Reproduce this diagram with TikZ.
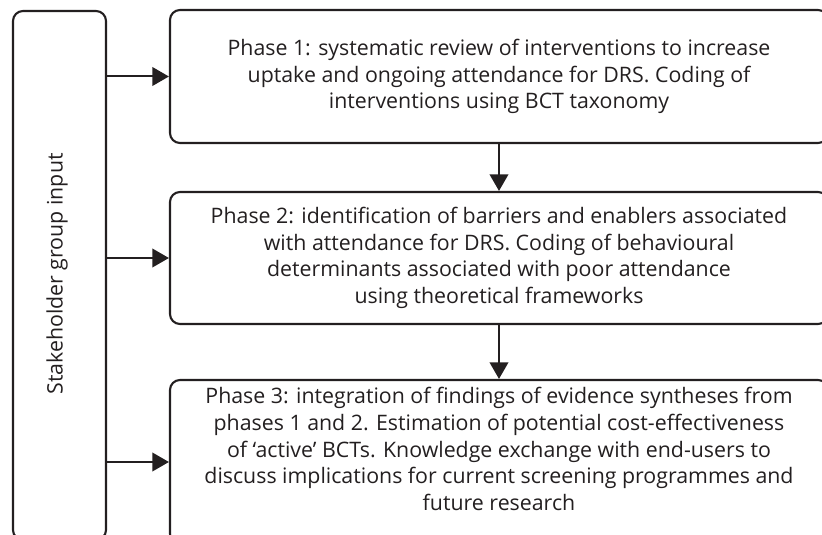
\documentclass[tikz,border=0pt]{standalone}
\usepackage{fontspec}
\setmainfont{Open Sans}
\usetikzlibrary{arrows.meta}
\definecolor{ink}{HTML}{231F20}
\begin{document}
\begin{tikzpicture}[x=0.75pt,y=-0.75pt,
  txt/.style={text=ink, align=center, inner sep=0pt, font=\fontsize{16}{20}\selectfont},
  box/.style={draw=ink, line width=1.6pt, rounded corners=7.5pt, txt},
  conn/.style={draw=ink, line width=1.5pt, -{Triangle[length=12.5pt,width=14pt]}}]
\useasboundingbox (0,0) rectangle (822,535);
\clip (0,0) rectangle (822,535);
\node[box, minimum width=69.75pt, minimum height=396.75pt] (sg) at (59.5,275.5) {};
\node[txt, rotate=90] (sgt) at (57,274) {Stakeholder group input};
\node[box, minimum width=493.5pt, minimum height=99.75pt] (p1) at (499,76.5)
  {Phase 1: systematic review of interventions to increase\\uptake and ongoing attendance for DRS. Coding of\\interventions using BCT taxonomy};
\node[box, minimum width=493.5pt, minimum height=99pt] (p2) at (499,258)
  {Phase 2: identification of barriers and enablers associated\\with attendance for DRS. Coding of behavioural\\determinants associated with poor attendance\\using theoretical frameworks};
\node[box, minimum width=493.5pt, minimum height=123pt] (p3) at (499,462) {};
\node[txt] (p3t) at (499,449)
  {Phase 3: integration of findings of evidence syntheses from\\phases 1 and 2. Estimation of potential cost-effectiveness\\of ‘active’ BCTs. Knowledge exchange with end-users to\\discuss implications for current screening programmes and\\future research};
\draw[conn] (sg.east |- p1.west) -- (p1.west);
\draw[conn] (sg.east |- p2.west) -- (p2.west);
\draw[conn] (sg.east |- p3.west) -- (p3.west);
\draw[conn] (p1.south) -- (p2.north);
\draw[conn] (p2.south) -- (p3.north);
\end{tikzpicture}
\end{document}
